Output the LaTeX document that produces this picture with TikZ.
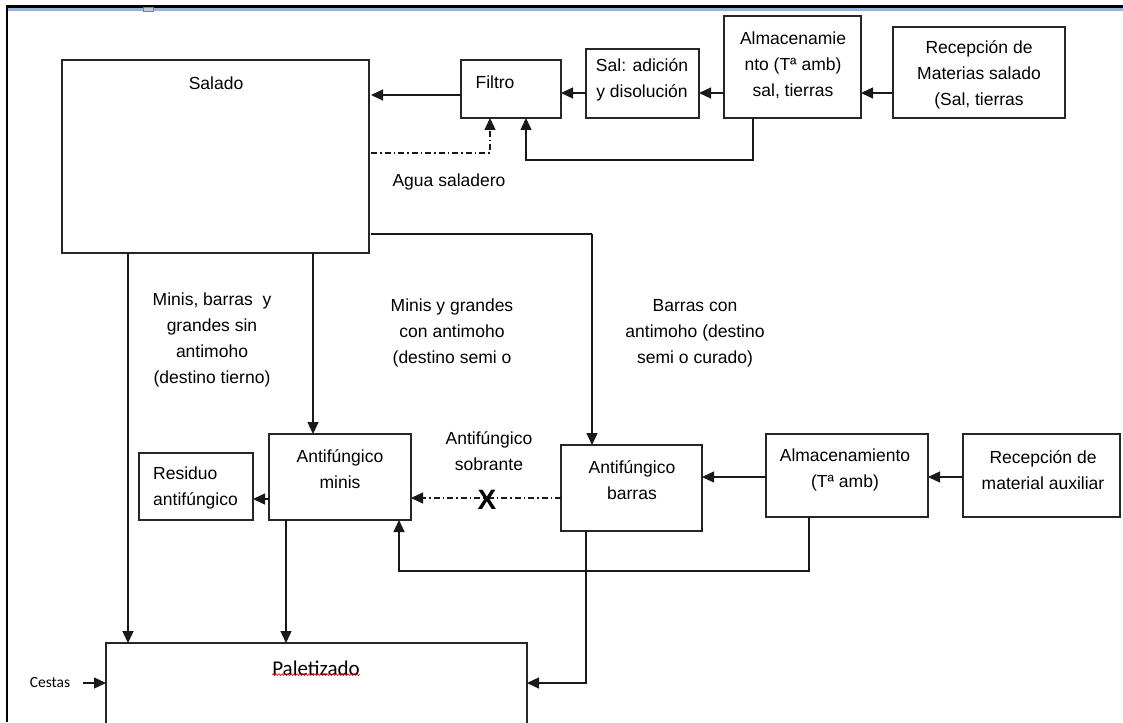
\documentclass[tikz,border=0pt]{standalone}
\usepackage{fontspec}
\setmainfont{Liberation Sans}
\newfontfamily\calfont{Carlito}
\usetikzlibrary{arrows.meta,decorations.pathmorphing,calc}
\definecolor{frameblue}{RGB}{150,180,222}
\definecolor{tabfill}{RGB}{190,205,225}
\begin{document}
\begin{tikzpicture}[x=1pt,y=-1pt,
  box/.style={draw=black!85, line width=1.4pt, anchor=north west, inner sep=0pt, outer sep=0pt},
  txt/.style={font=\fontsize{17.5}{26}\selectfont, align=center, inner sep=0pt, text=black},
  ln/.style={line width=1.4pt, draw=black!90},
  arr/.style={ln, -{Triangle[length=12pt,width=11pt]}},
  dd/.style={arr, dash pattern=on 6pt off 3pt on 1.5pt off 3pt},
]
\useasboundingbox (0,0) rectangle (1123,722);
% frame
\draw[line width=2.4pt] (7,722) -- (7,6.5) -- (1123,6.5);
\draw[line width=3.2pt, frameblue] (8.4,9.5) -- (1123,9.5);
\node[draw=gray, fill=tabfill, line width=0.6pt, anchor=north west, inner sep=0pt, minimum width=10pt, minimum height=4pt] (tab) at (143,7) {};

% boxes
\node[box, minimum width=307pt, minimum height=193pt] (salado) at (62,60) {};
\node[box, minimum width=100pt, minimum height=58pt] (filtro) at (461,60) {};
\node[box, minimum width=113pt, minimum height=69pt] (sal) at (586,49) {};
\node[box, minimum width=137pt, minimum height=102pt] (alm1) at (724,16) {};
\node[box, minimum width=172pt, minimum height=91pt] (rec1) at (893,27) {};
\node[box, minimum width=142pt, minimum height=86pt] (minis) at (269,434) {};
\node[box, minimum width=114pt, minimum height=67pt] (residuo) at (139,453) {};
\node[box, minimum width=141pt, minimum height=86pt] (barras) at (561,445) {};
\node[box, minimum width=162pt, minimum height=83pt] (alm2) at (766,434) {};
\node[box, minimum width=157pt, minimum height=83pt] (rec2) at (963,434) {};
\node[box, minimum width=421pt, minimum height=100pt] (palet) at (106,643) {};

% texts
\node[txt] (tsalado) at (216,83) {Salado};
\node[txt] (tfiltro) at (495,82) {Filtro};
\node[txt] (tsal) at (642,80) {Sal: adición\\y disolución};
\node[txt] (talm1) at (793,65.5) {Almacenamie\\nto (Tª amb)\\sal, tierras};
\node[txt] (trec1) at (979,75) {Recepción de\\Materias salado\\(Sal, tierras};
\node[txt] (tagua) at (449,182) {Agua saladero};
\node[txt] (tla) at (212,340) {Minis, barras\ \ y\\grandes sin\\antimoho\\(destino tierno)};
\node[txt] (tlb) at (452,333) {Minis y grandes\\con antimoho\\(destino semi o};
\node[txt] (tlc) at (695,333) {Barras con\\antimoho (destino\\semi o curado)};
\node[txt] (tminis) at (340,469) {Antifúngico\\minis};
\node[txt, align=left, anchor=west] (tres) at (153,487.5) {Residuo\\antifúngico};
\node[txt] (tsobr) at (489,451) {Antifúngico\\sobrante};
\node[txt] (tbarras) at (632,480) {Antifúngico\\barras};
\node[txt] (talm2) at (845,470) {Almacenamiento\\(Tª amb)};
\node[txt] (trec2) at (1043,470) {Recepción de\\material auxiliar};
\node[inner sep=0pt, font=\calfont\fontsize{21}{24}\selectfont, text=black] (tpalet) at (316,668) {Paletizado};
\node[inner sep=1pt, font=\calfont\fontsize{15.5}{18}\selectfont, text=black] (cestas) at (50,683) {Cestas};

% spell-check underline
\draw[red!85!black, line width=0.6pt, decorate, decoration={snake, amplitude=0.9pt, segment length=3pt}] (tpalet.south west) ++(0,-1) coordinate (w1) -- (tpalet.south east |- w1);

% connectors
\draw[arr] (rec1.west |- 0,93) -- (alm1.east |- 0,93);
\draw[arr] (alm1.west |- 0,93) -- (sal.east |- 0,93);
\draw[arr] (sal.west |- 0,93) -- (filtro.east |- 0,93);
\draw[arr] (filtro.west |- 0,95) -- ([xshift=2pt]salado.east |- 0,95);
\draw[arr] (alm1.south -| 753,0) |- (526,160) -- (filtro.south -| 526,0);
\draw[dd] ([xshift=2pt]salado.east |- 0,153) -| (filtro.south -| 490,0);
\draw[ln] ([xshift=2pt]salado.east |- 0,234) -- (592,234);
\draw[arr] (592,234) -- (barras.north -| 592,0);
\draw[arr] (salado.south -| 128,0) -- (palet.north -| 128,0);
\draw[arr] (salado.south -| 313,0) -- (minis.north -| 313,0);
\draw[arr] (minis.west |- 0,499) -- (residuo.east |- 0,499);
\draw[dd] (barras.west |- 0,498) -- (minis.east |- 0,498);
\node[font=\bfseries\fontsize{28}{30}\selectfont, inner sep=0pt] (x) at (487,500) {X};
\draw[arr] (rec2.west |- 0,477) -- (alm2.east |- 0,477);
\draw[arr] (alm2.west |- 0,477) -- (barras.east |- 0,477);
\draw[arr] (alm2.south -| 809,0) |- (399,571) -- (minis.south -| 399,0);
\draw[arr] (minis.south -| 286,0) -- (palet.north -| 286,0);
\draw[arr] (barras.south -| 586,0) |- (palet.east |- 0,683);
\draw[arr] (cestas.east) ++(12,0) -- (palet.west |- 0,683);
\end{tikzpicture}
\end{document}
